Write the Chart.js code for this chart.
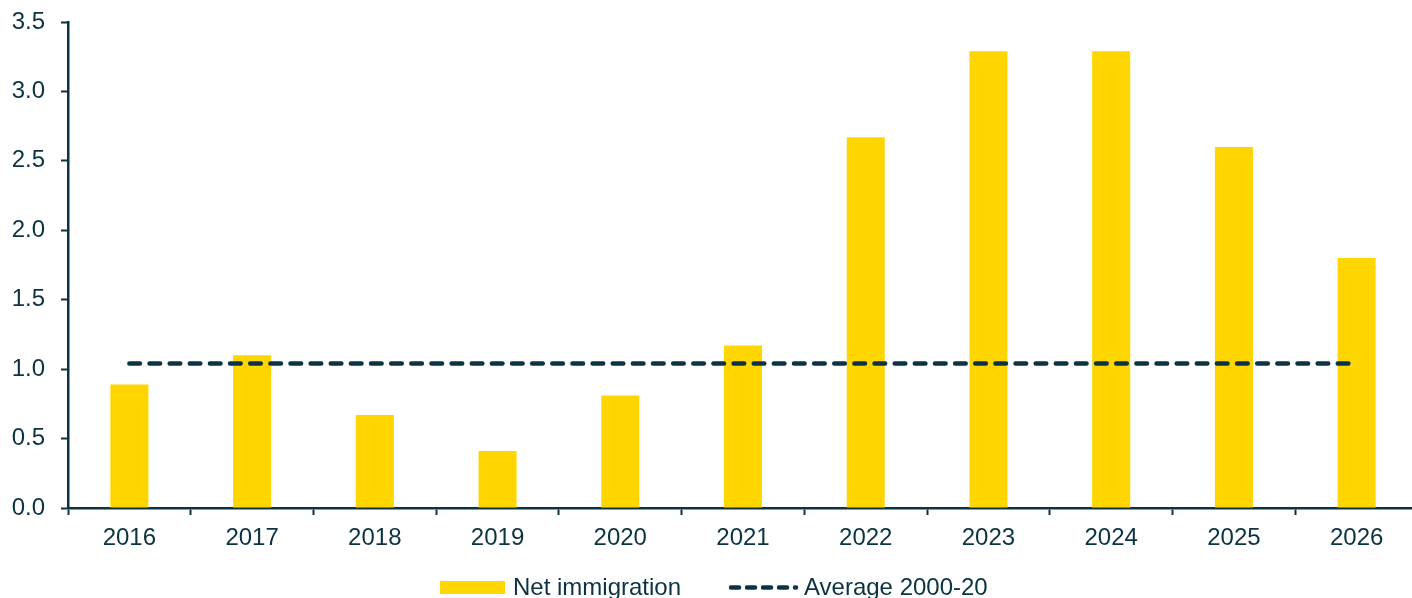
<!DOCTYPE html>
<html>
<head>
<meta charset="utf-8">
<script src="https://cdn.jsdelivr.net/npm/chart.js@4"></script>
<style>
  html, body { margin: 0; padding: 0; background: #ffffff; overflow: hidden; }
  #wrap { width: 1418px; height: 598px; position: relative; }
</style>
</head>
<body>
<div id="wrap"><canvas id="c" width="1418" height="598"></canvas></div>
<script>
const categories = ['2016','2017','2018','2019','2020','2021','2022','2023','2024','2025','2026'];
const netImmigration = [0.89, 1.10, 0.67, 0.41, 0.81, 1.17, 2.67, 3.29, 3.29, 2.60, 1.80];
const average2000to20 = [1.04, 1.04, 1.04, 1.04, 1.04, 1.04, 1.04, 1.04, 1.04, 1.04, 1.04];
const yTicks = [0.0, 0.5, 1.0, 1.5, 2.0, 2.5, 3.0, 3.5];
const seriesNames = ['Net immigration', 'Average 2000-20'];

const DARK = '#0b3341';
const GOLD = '#ffd600';
const FONT = '"Liberation Sans", Arial, sans-serif';

const legendPlugin = {
  id: 'customLegend',
  afterDraw(chart) {
    const ctx = chart.ctx;
    ctx.save();
    ctx.fillStyle = GOLD;
    ctx.fillRect(440, 581, 65, 13);
    ctx.fillStyle = DARK;
    ctx.font = '24px ' + FONT;
    ctx.textBaseline = 'alphabetic';
    ctx.textAlign = 'left';
    ctx.fillText(seriesNames[0], 513, 595);
    ctx.strokeStyle = DARK;
    ctx.lineWidth = 4.5;
    ctx.lineCap = 'round';
    ctx.setLineDash([8, 8]);
    ctx.beginPath();
    ctx.moveTo(731, 587.5);
    ctx.lineTo(796, 587.5);
    ctx.stroke();
    ctx.setLineDash([]);
    ctx.fillText(seriesNames[1], 804, 595);
    ctx.restore();
  }
};

new Chart(document.getElementById('c'), {
  type: 'bar',
  data: {
    labels: categories,
    datasets: [
      {
        type: 'line',
        label: seriesNames[1],
        data: average2000to20,
        borderColor: DARK,
        borderWidth: 4.5,
        borderDash: [10.6, 9.54],
        borderCapStyle: 'round',
        pointRadius: 0,
        fill: false,
        order: 0
      },
      {
        type: 'bar',
        label: seriesNames[0],
        data: netImmigration,
        backgroundColor: GOLD,
        borderWidth: 0,
        categoryPercentage: 1.0,
        barPercentage: 0.31,
        order: 1
      }
    ]
  },
  options: {
    responsive: false,
    devicePixelRatio: 1,
    animation: false,
    layout: { padding: { top: 22, left: 0, right: 0, bottom: 0 } },
    plugins: {
      legend: { display: false },
      tooltip: { enabled: false }
    },
    scales: {
      x: {
        offset: true,
        grid: {
          offset: true,
          drawOnChartArea: false,
          drawTicks: true,
          tickLength: 7,
          tickColor: DARK,
          tickWidth: 2
        },
        border: { display: true, color: DARK, width: 2.5 },
        ticks: {
          color: DARK,
          font: { family: FONT, size: 24 },
          padding: 9,
          maxRotation: 0,
          autoSkip: false
        },
        afterFit(scale) { scale.height = 90; scale.paddingLeft = 0; scale.paddingRight = 0; }
      },
      y: {
        min: 0,
        max: 3.5,
        afterBuildTicks(scale) { scale.ticks = yTicks.map(v => ({ value: v })); },
        grid: {
          drawOnChartArea: false,
          drawTicks: true,
          tickLength: 7,
          tickColor: DARK,
          tickWidth: 2
        },
        border: { display: true, color: DARK, width: 2.5 },
        ticks: {
          color: DARK,
          font: { family: FONT, size: 24 },
          padding: 16,
          callback: (v) => Number(v).toFixed(1)
        },
        afterFit(scale) { scale.width = 68; scale.paddingTop = 0; scale.paddingBottom = 0; }
      }
    }
  },
  plugins: [legendPlugin]
});
</script>
</body>
</html>
